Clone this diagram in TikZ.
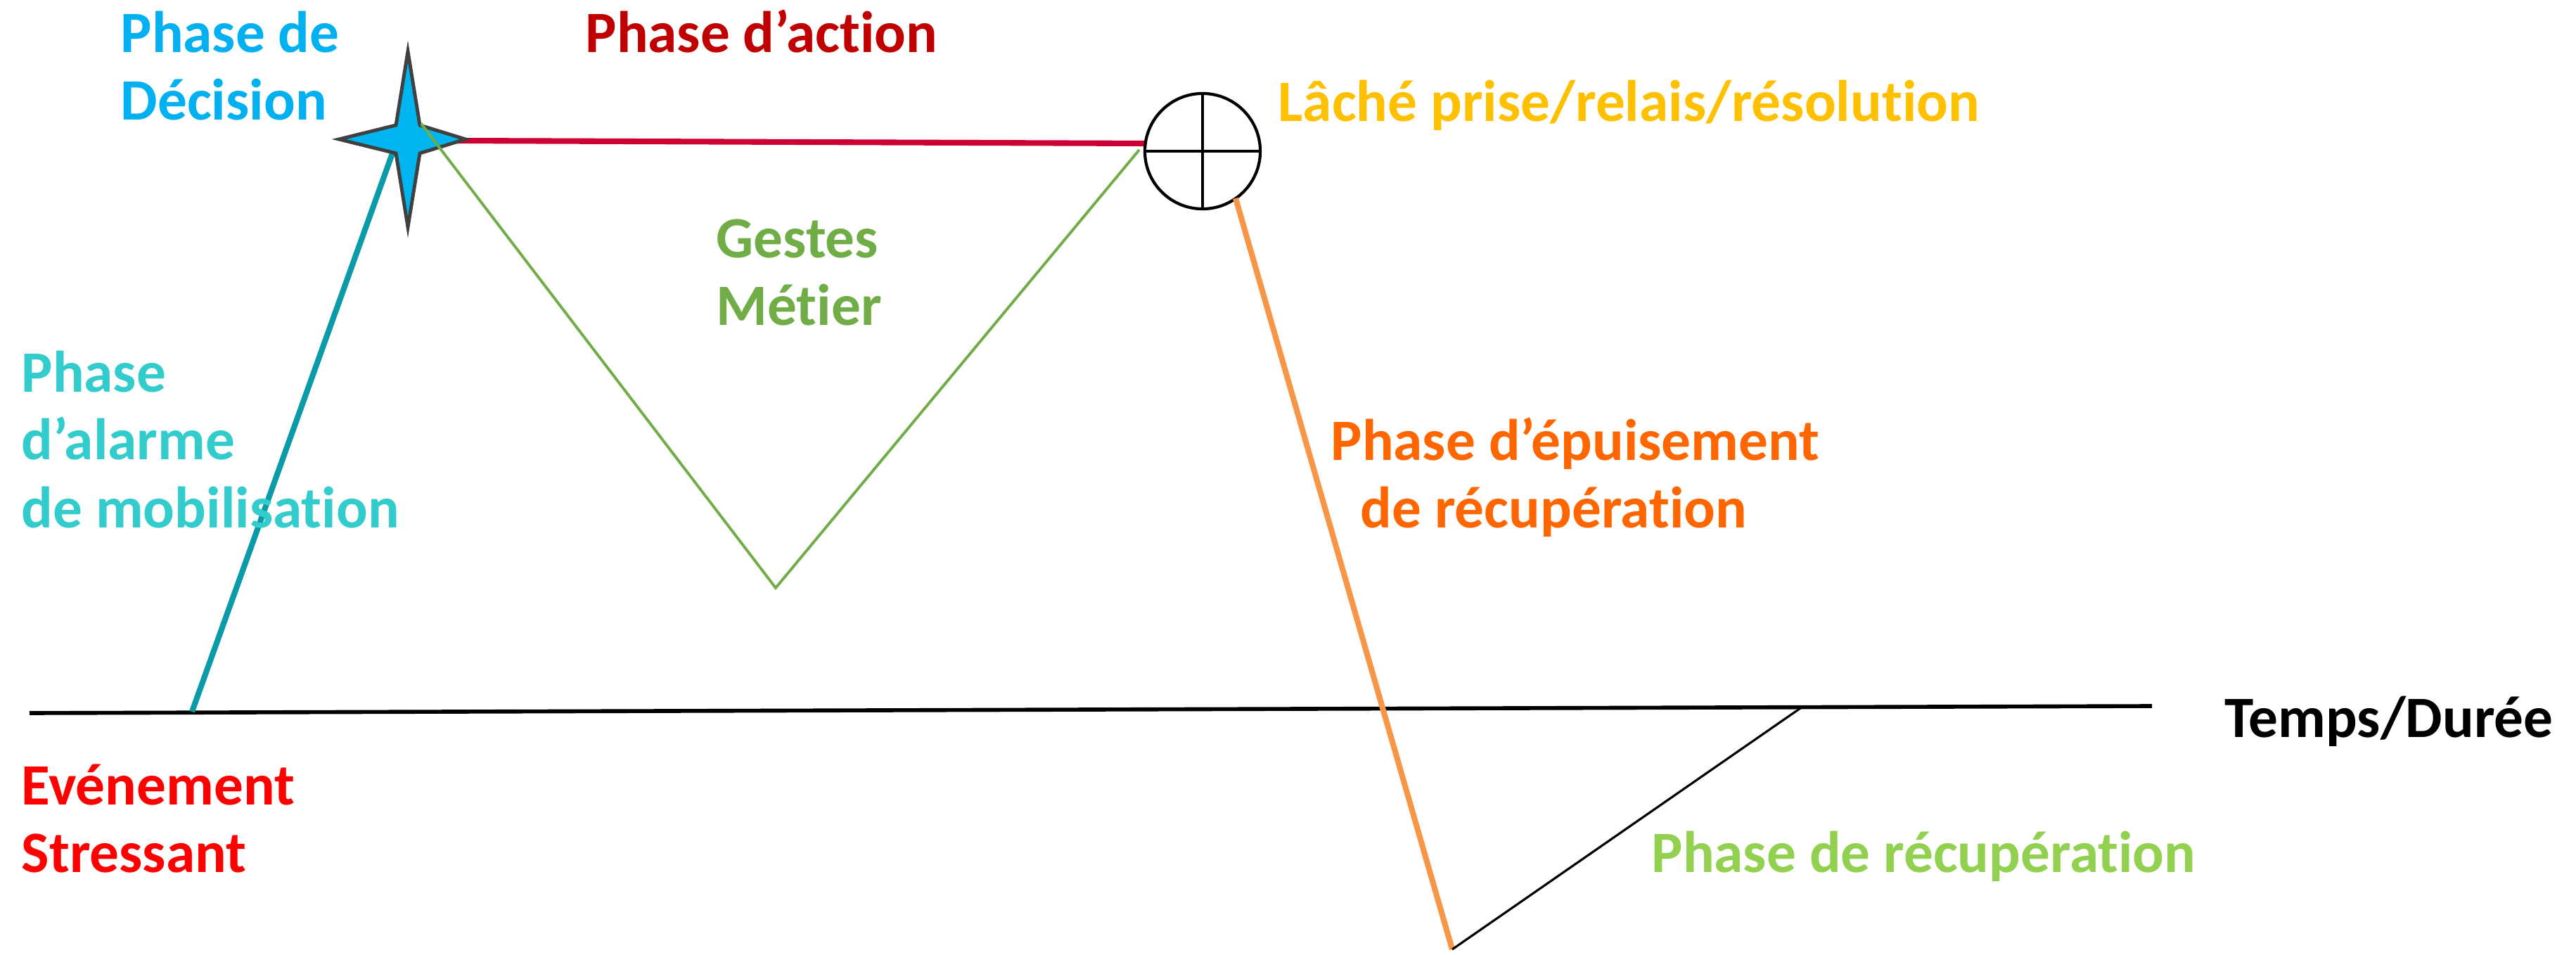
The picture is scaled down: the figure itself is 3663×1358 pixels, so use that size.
\documentclass[tikz,border=0pt]{standalone}
\usepackage{fontspec}
\setmainfont[Ligatures={NoCommon,NoContextual}]{Carlito}
\newcommand{\tinolig}{t\kern0pt i}
\definecolor{cdecision}{HTML}{00B0F0}
\definecolor{caction}{HTML}{C00000}
\definecolor{clache}{HTML}{FFC000}
\definecolor{cgestes}{HTML}{70AD47}
\definecolor{calarme}{HTML}{33CCCC}
\definecolor{cepuis}{HTML}{FF6600}
\definecolor{cevt}{HTML}{FF0000}
\definecolor{crecup}{HTML}{92D050}
\definecolor{cteal}{HTML}{0B9BA8}
\definecolor{cred}{HTML}{CC0033}
\definecolor{corange}{HTML}{F79646}
\definecolor{cstar}{HTML}{00B4F0}
\definecolor{cstaredge}{HTML}{404040}
\tikzset{
  lbl/.style={anchor=base west, align=left, inner sep=0pt, font=\fontsize{23.7pt}{27.3pt}\selectfont\bfseries},
  axisline/.style={line width=1.6pt, black},
  tealline/.style={line width=2.3pt, cteal},
  redline/.style={line width=2.3pt, cred},
  greenline/.style={line width=1.1pt, cgestes},
  orangeline/.style={line width=2.3pt, corange},
  recupline/.style={line width=0.9pt, black},
}
\begin{document}
\begin{tikzpicture}[x=0.01cm, y=-0.01cm]
\useasboundingbox (0,0) rectangle (3663,1358);
% key points
\coordinate (axisL) at (42,1014);
\coordinate (axisR) at (3060,1004);
\coordinate (evt) at (273,1012);
\coordinate (star) at (580,198);
\coordinate (tealTop) at (558,218);
\coordinate (greenStart) at (599,176);
\coordinate (greenBot) at (1103,836);
\coordinate (greenEnd) at (1620,213);
\coordinate (redStart) at (650,200);
\coordinate (redEnd) at (1630,204);
\coordinate (orangeStart) at (1757,282);
\coordinate (low) at (2065,1350);
\coordinate (recupEnd) at (2563,1005);
% axis
\draw[axisline] (axisL) -- (axisR);
% alarm phase
\draw[tealline] (evt) -- (tealTop);
% action phase
\draw[redline] (redStart) -- (redEnd);
% star (decision)
\draw[fill=cstar, draw=cstaredge, line width=1.4pt, line join=miter]
  (580,73) -- (597,178) -- (662,198) -- (597,218) -- (580,323)
  -- (563,218) -- (482,198) -- (563,178) -- cycle;
% gestes metier
\draw[greenline] (greenStart) -- (greenBot) -- (greenEnd);
% resolution circle
\node[circle, draw=black, line width=1.2pt, minimum size=1.64cm, inner sep=0pt] (res) at (1710,215) {};
\draw[line width=1.1pt] (res.north) -- (res.south);
\draw[line width=1.1pt] (res.west) -- (res.east);
% exhaustion and recovery
\draw[orangeline] (orangeStart) -- (low);
\draw[recupline] (low) -- (recupEnd);
% labels (base = baseline of the last line)
\node[lbl, text=cdecision] (tdec) at (171,171) {Phase de\\Décision};
\node[lbl, text=caction] (tact) at (832,75) {Phase d’ac\tinolig on};
\node[lbl, text=clache] (tlache) at (1817,173) {Lâché prise/relais/résolu\tinolig on};
\node[lbl, text=cgestes] (tgestes) at (1018,463) {Gestes\\Mé\tinolig er};
\node[lbl, text=calarme] (talarme) at (30,750) {Phase\\d’alarme\\de mobilisa\tinolig on};
\node[lbl, text=cepuis] (tepuis1) at (1892,654) {Phase d’épuisement};
\node[lbl, text=cepuis] (tepuis2) at (1934,750) {de récupéra\tinolig on};
\node[lbl, text=black] (ttemps) at (3163,1048) {Temps/Durée};
\node[lbl, text=cevt] (tevt) at (30,1240) {Evénement\\Stressant};
\node[lbl, text=crecup] (trecup) at (2348,1240) {Phase de récupéra\tinolig on};
\end{tikzpicture}
\end{document}
